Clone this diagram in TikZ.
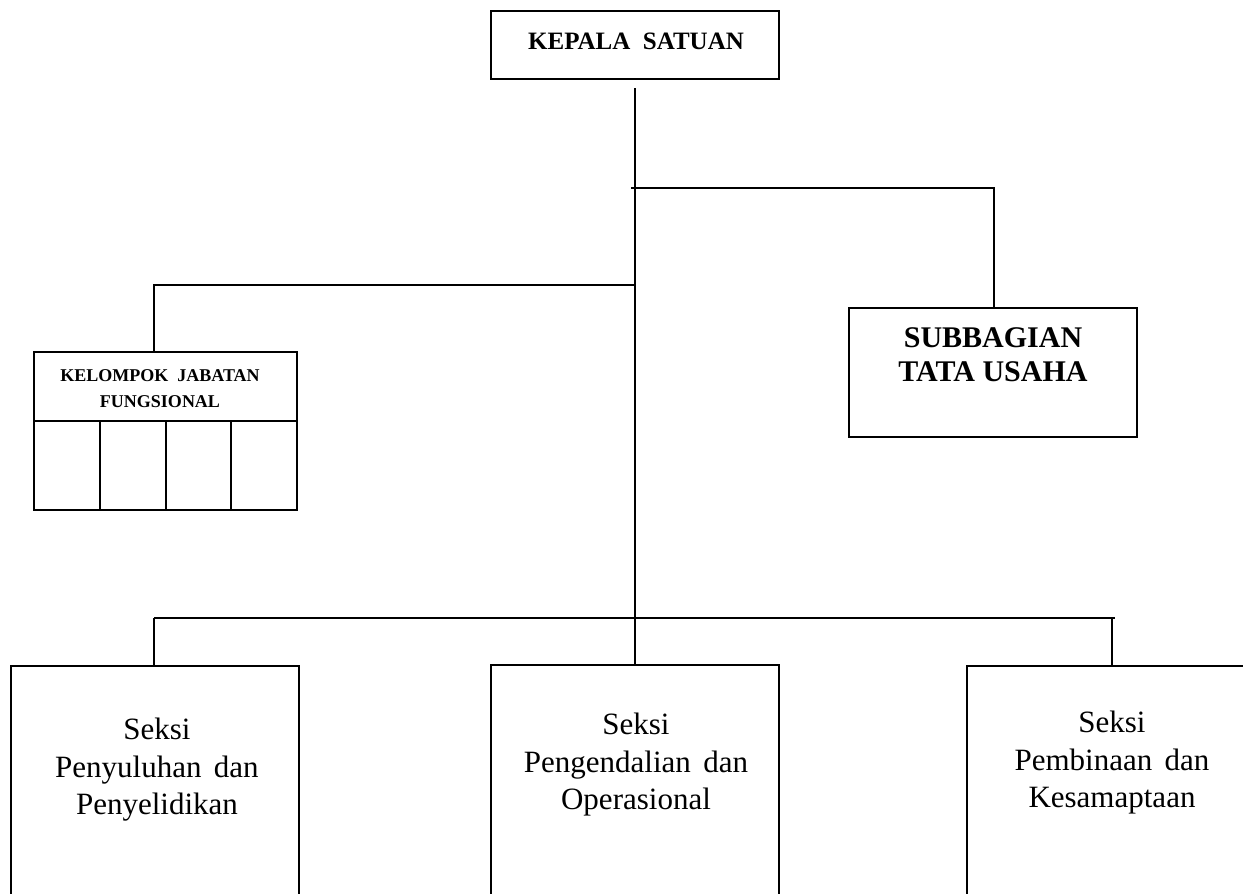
\documentclass[tikz,border=0pt]{standalone}
\usepackage{fontspec}
\setmainfont{Liberation Serif}
\begin{document}
\begin{tikzpicture}[x=1pt, y=-1pt,
  wire/.style={draw=black, line width=2.8pt},
  unitbox/.style={draw=black, line width=2.8pt, rectangle, inner sep=0pt, outer sep=0pt, anchor=north west},
  headtext/.style={font=\bfseries, align=center, inner sep=0pt},
  secttext/.style={font=\fontsize{31}{37.5}\selectfont, align=center, inner sep=0pt}]
\useasboundingbox (0,0) rectangle (1243,894);
\clip (0,0) rectangle (1243,894);

% boxes
\node[unitbox, minimum width=288pt, minimum height=68pt] (kepala) at (491,11) {};
\node[unitbox, minimum width=288pt, minimum height=129pt] (sub) at (849,308) {};
\node[unitbox, minimum width=263pt, minimum height=158pt] (kel) at (34,352) {};
\node[unitbox, minimum width=288pt, minimum height=260pt] (seksiA) at (11,666) {};
\node[unitbox, minimum width=288pt, minimum height=260pt] (seksiB) at (491,665) {};
\node[unitbox, minimum width=290pt, minimum height=260pt] (seksiC) at (967,666) {};

% inner grid of the functional group box
\draw[wire] (34,421) -- (297,421);
\foreach \cx in {100,166,231} \draw[wire] (\cx,421) -- (\cx,510);

% texts
\node[headtext, font=\fontsize{25}{28}\selectfont\bfseries] (tKepala) at (636,41) {KEPALA\hspace{0.5em}SATUAN};
\node[headtext, font=\fontsize{30}{34}\selectfont\bfseries] (tSub) at (993,355) {SUBBAGIAN\\TATA USAHA};
\node[headtext, font=\fontsize{18}{26}\selectfont\bfseries] (tKel) at (160,389) {KELOMPOK\hspace{0.5em}JABATAN\\FUNGSIONAL};
\node[secttext] (tA) at (157,770) {Seksi\\Penyuluhan\hspace{0.4em}dan\\Penyelidikan};
\node[secttext] (tB) at (636,765) {Seksi\\Pengendalian\hspace{0.4em}dan\\Operasional};
\node[secttext] (tC) at (1112,763) {Seksi\\Pembinaan\hspace{0.4em}dan\\Kesamaptaan};

% connectors
\coordinate (spineTop) at (635,88);
\coordinate (jSub) at (631,188);
\coordinate (jKel) at (635,285);
\coordinate (busL) at (154,618);
\coordinate (busR) at (1115,618);
\draw[wire] (spineTop) -- (seksiB.north);
\draw[wire] (jSub) -| ([xshift=1pt]sub.north);
\draw[wire] (jKel) -| ([xshift=-11.5pt]kel.north);
\draw[wire] (busL) -- (busR);
\draw[wire] (busL) -- (seksiA.north -| busL);
\draw[wire] (seksiC.north) -- (seksiC.north |- busR);
\end{tikzpicture}
\end{document}
